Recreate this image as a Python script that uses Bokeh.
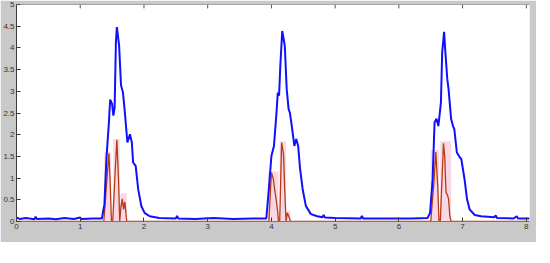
from bokeh.plotting import figure
from bokeh.models import LinearAxis, FixedTicker, Range1d, Span
from bokeh.embed import file_html
from bokeh.resources import INLINE

# ---- data ----
blue_x = [0.00, 0.05, 0.15, 0.28, 0.30, 0.32, 0.50, 0.62, 0.75, 0.90, 1.00, 1.02, 1.20, 1.34,
          1.38, 1.41, 1.45, 1.47, 1.50, 1.52, 1.54, 1.56, 1.575, 1.61, 1.64, 1.67, 1.70, 1.74,
          1.78, 1.81, 1.83, 1.87, 1.91, 1.96, 2.01, 2.09, 2.24, 2.50, 2.52, 2.54, 2.80, 3.10,
          3.40, 3.70, 3.92, 3.96, 4.00, 4.04, 4.08, 4.10, 4.12, 4.14, 4.17, 4.21, 4.24, 4.27,
          4.29, 4.32, 4.36, 4.39, 4.42, 4.45, 4.49, 4.54, 4.62, 4.72, 4.80, 4.82, 4.84, 5.00,
          5.40, 5.42, 5.44, 5.80, 6.20, 6.45, 6.49, 6.53, 6.56, 6.59, 6.62, 6.66, 6.68, 6.71,
          6.73, 6.76, 6.78, 6.82, 6.85, 6.87, 6.91, 6.96, 6.98, 7.03, 7.07, 7.11, 7.19, 7.29,
          7.50, 7.52, 7.54, 7.80, 7.85, 7.87, 8.05]
blue_y = [0.09, 0.06, 0.08, 0.05, 0.11, 0.06, 0.07, 0.05, 0.08, 0.06, 0.09, 0.06, 0.07, 0.07,
          0.40, 1.43, 2.28, 2.81, 2.71, 2.44, 2.62, 4.14, 4.48, 4.06, 3.14, 2.98, 2.52, 1.82,
          2.01, 1.82, 1.36, 1.28, 0.74, 0.35, 0.20, 0.12, 0.08, 0.07, 0.13, 0.07, 0.06, 0.08,
          0.06, 0.07, 0.07, 0.75, 1.51, 1.74, 2.51, 2.97, 2.90, 3.59, 4.39, 4.05, 3.05, 2.59,
          2.51, 2.20, 1.74, 1.90, 1.74, 1.21, 0.75, 0.36, 0.17, 0.12, 0.10, 0.15, 0.09, 0.08,
          0.07, 0.13, 0.07, 0.07, 0.07, 0.08, 0.20, 0.97, 2.28, 2.37, 2.20, 2.74, 3.90, 4.37,
          3.90, 3.28, 3.05, 2.36, 2.20, 2.13, 1.59, 1.47, 1.44, 0.98, 0.51, 0.28, 0.15, 0.12,
          0.10, 0.14, 0.08, 0.07, 0.12, 0.07, 0.07]

red_x = [0.00, 1.37, 1.41, 1.45, 1.47, 1.49, 1.51, 1.55, 1.575, 1.60, 1.62, 1.64, 1.66, 1.68,
         1.70, 1.73, 3.96, 4.00, 4.03, 4.05, 4.08, 4.10, 4.11, 4.13, 4.16, 4.19, 4.21, 4.23,
         4.25, 4.27, 4.30, 6.50, 6.55, 6.58, 6.61, 6.63, 6.65, 6.70, 6.72, 6.74, 6.76, 6.78,
         6.80, 6.82, 8.05]
red_y = [0.00, 0.00, 0.80, 1.57, 0.90, 0.00, 0.00, 1.20, 1.88, 1.00, 0.00, 0.35, 0.52, 0.28,
         0.45, 0.00, 0.00, 1.13, 0.98, 0.75, 0.45, 0.20, 0.00, 0.00, 1.82, 1.55, 0.70, 0.00,
         0.20, 0.13, 0.00, 0.00, 0.90, 1.60, 0.80, 0.00, 0.00, 1.80, 1.50, 0.67, 0.62, 0.52,
         0.13, 0.00, 0.00]

band_left = [1.38, 1.52, 1.63, 3.95, 4.13, 4.24, 6.50, 6.65]
band_right = [1.48, 1.62, 1.73, 4.11, 4.23, 4.30, 6.63, 6.82]
band_top = [1.60, 1.90, 0.65, 1.15, 1.85, 0.25, 1.65, 1.85]

x_ticks = [0, 1, 2, 3, 4, 5, 6, 7, 8]
y_ticks = [0, 0.5, 1, 1.5, 2, 2.5, 3, 3.5, 4, 4.5, 5]
y_tick_labels = ["0", "0.5", "1", "1.5", "2", "2.5", "3", "3.5", "4", "4.5", "5"]

FONT = "Liberation Sans"
GRAY = "#c9c9c9"
Y_MAX = 5

p = figure(width=536, height=242, output_backend="svg", toolbar_location=None,
           x_range=Range1d(0, 8.05), y_range=Range1d(0, Y_MAX),
           x_axis_location=None, y_axis_location=None,
           min_border_left=0, min_border_right=7, min_border_top=4, min_border_bottom=21)
p.border_fill_color = GRAY
p.background_fill_color = "white"
p.outline_line_color = None
p.grid.visible = False

p.quad(left=band_left, right=band_right, bottom=0, top=band_top,
       fill_color="#f9d8e3", line_color=None)
p.line(red_x, red_y, line_color="#b83a14", line_width=1.3)
p.line(blue_x, blue_y, line_color="#1010ff", line_width=2)

def style(ax):
    ax.major_tick_in = 4
    ax.major_tick_out = 0
    ax.minor_tick_line_color = None
    ax.axis_line_color = "#3a3a3a"
    ax.major_tick_line_color = "#3a3a3a"
    ax.major_label_text_font = FONT
    ax.major_label_text_font_size = "8px"
    ax.major_label_text_color = "#333333"
    ax.major_label_standoff = 2

yax = LinearAxis(ticker=FixedTicker(ticks=y_ticks))
yax.major_label_overrides = {t: l for t, l in zip(y_ticks, y_tick_labels)}
style(yax)
p.add_layout(yax, "left")

xax = LinearAxis(ticker=FixedTicker(ticks=x_ticks))
style(xax)
xax.axis_line_color = "#777777"
p.add_layout(xax, "below")

# top edge of the box with inward ticks (MATLAB style)
p.add_layout(Span(location=Y_MAX, dimension="width", line_color="#555555", line_width=1))
p.segment(x0=x_ticks, x1=x_ticks, y0=[Y_MAX] * len(x_ticks), y1=[Y_MAX - 0.09] * len(x_ticks),
          line_color="#555555", line_width=1)

open("out.html", "w").write(file_html(p, INLINE))
